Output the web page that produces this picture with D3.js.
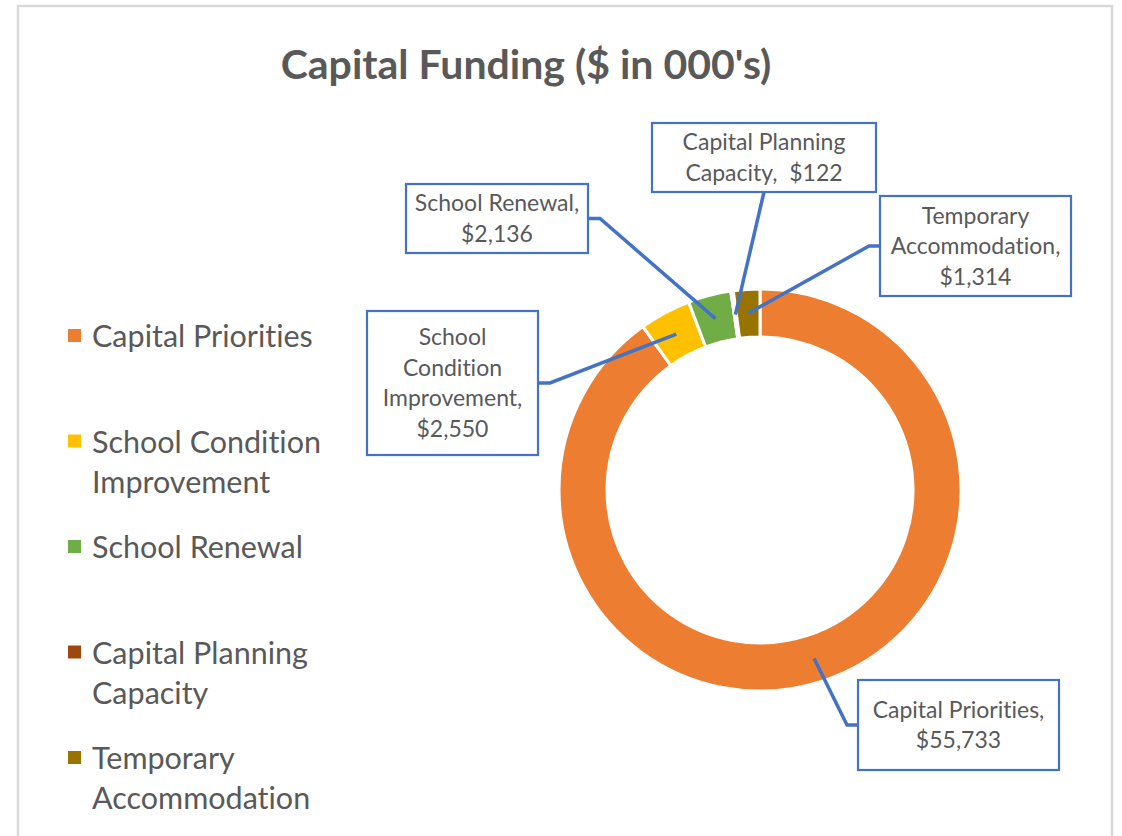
<!DOCTYPE html>
<html>
<head>
<meta charset="utf-8">
<script src="https://cdnjs.cloudflare.com/ajax/libs/d3/7.8.5/d3.min.js"></script>
<style>
    body { margin: 0; background: #fff; }
    text { font-variant-ligatures: none; }
</style>
</head>
<body>
<div id="chart"></div>
<script>
// chart data
var categories = ["Capital Priorities", "School Condition Improvement", "School Renewal", "Capital Planning Capacity", "Temporary Accommodation"];
var values = [55733, 2550, 2136, 122, 1314];
var sliceColors = ["#ED7D31", "#FFC000", "#70AD47", "#9E480E", "#997300"];

// how the text wraps
var legendLines = [["Capital Priorities"], ["School Condition", "Improvement"], ["School Renewal"], ["Capital Planning", "Capacity"], ["Temporary", "Accommodation"]];
var labelNameLines = [["Capital Priorities,"], ["School", "Condition", "Improvement,"], ["School Renewal,"], ["Capital Planning", "Capacity, "], ["Temporary", "Accommodation,"]];
var valueOnSameLine = [false, false, false, true, false];

// label boxes (x, y, w, h) and which side the leader leaves from
var labelBoxes = [
    { x: 858, y: 680, w: 201, h: 90, side: "left" },
    { x: 367, y: 311, w: 171, h: 144, side: "right" },
    { x: 406, y: 184, w: 182, h: 69, side: "right" },
    { x: 652, y: 123, w: 224, h: 69, side: "bottom" },
    { x: 880, y: 196, w: 191, h: 100, side: "left" }
];

var app = app || {};

app.Donut = (function () {
    'use strict';

    var W = 1122, H = 836;
    var gray = "#595959", blue = "#4472C4";

    var init = function (el) {
        var svg = d3.select(el).append("svg")
            .attr("width", W)
            .attr("height", H);

        // chart border
        svg.append("rect")
            .attr("x", 18).attr("y", 6)
            .attr("width", 1094).attr("height", H + 20)
            .attr("fill", "#fff")
            .attr("stroke", "#d9d9d9")
            .attr("stroke-width", 2.5);

        addText(svg, 526, 79, "Capital Funding ($ in 000's)", 41, "bold", "middle");

        ring(svg);
        legend(svg);
    };

    var addText = function (g, x, y, txt, size, weight, anchor) {
        return g.append("text")
            .attr("x", x)
            .attr("y", y)
            .attr("text-anchor", anchor)
            .attr("font-family", "Lato, 'Open Sans', sans-serif")
            .attr("font-size", size)
            .attr("font-weight", weight)
            .attr("fill", gray)
            .text(txt);
    };

    var ring = function (svg) {
        var cx = 760, cy = 490, R = 201, r = 153;
        var fmt = d3.format("$,");

        var pie = d3.pie().sort(null).value(function (d) { return d.v; });
        var data = pie(categories.map(function (c, i) { return { name: c, v: values[i], i: i }; }));

        var arc = d3.arc().innerRadius(r).outerRadius(R);
        var g = svg.append("g").attr("transform", "translate(" + cx + "," + cy + ")");

        g.selectAll("path.slice")
            .data(data)
            .enter()
            .append("path")
            .attr("class", "slice")
            .attr("d", arc)
            .attr("fill", function (d) { return sliceColors[d.data.i]; })
            .attr("stroke", "#fff")
            .attr("stroke-width", 3);

        // leader lines + label boxes
        data.forEach(function (d) {
            var i = d.data.i, b = labelBoxes[i];
            var c = arc.centroid(d);
            var end = [c[0] + cx, c[1] + cy];
            var pts;
            if (b.side === "left") {
                pts = [[b.x, b.y + b.h / 2], [b.x - 11, b.y + b.h / 2], end];
            } else if (b.side === "right") {
                pts = [[b.x + b.w, b.y + b.h / 2], [b.x + b.w + 12, b.y + b.h / 2], end];
            } else {
                pts = [[b.x + b.w / 2, b.y + b.h], end];
            }
            svg.append("path")
                .attr("d", d3.line()(pts))
                .attr("fill", "none")
                .attr("stroke", blue)
                .attr("stroke-width", 3.5);

            svg.append("rect")
                .attr("x", b.x).attr("y", b.y)
                .attr("width", b.w).attr("height", b.h)
                .attr("fill", "#fff")
                .attr("stroke", blue)
                .attr("stroke-width", 2.2);

            var lines = labelNameLines[i].slice();
            if (valueOnSameLine[i]) {
                lines[lines.length - 1] += " " + fmt(d.data.v);
            } else {
                lines.push(fmt(d.data.v));
            }
            var lh = 30.5, n = lines.length;
            lines.forEach(function (t, k) {
                var y = b.y + b.h / 2 + (k - (n - 1) / 2) * lh + 8;
                addText(svg, b.x + b.w / 2, y, t, 23, "normal", "middle")
                    .attr("xml:space", "preserve");
            });
        });
    };

    var legend = function (svg) {
        var y0 = 347, step = 105.5, lh = 40;
        categories.forEach(function (c, i) {
            var y = y0 + i * step;
            svg.append("rect")
                .attr("x", 68).attr("y", y - 18)
                .attr("width", 13).attr("height", 13)
                .attr("fill", sliceColors[i]);
            legendLines[i].forEach(function (t, k) {
                addText(svg, 92, y + k * lh, t, 30.5, "normal", "start");
            });
        });
    };

    return {
        init: init
    };
}());

app.Donut.init("#chart");
</script>
</body>
</html>
